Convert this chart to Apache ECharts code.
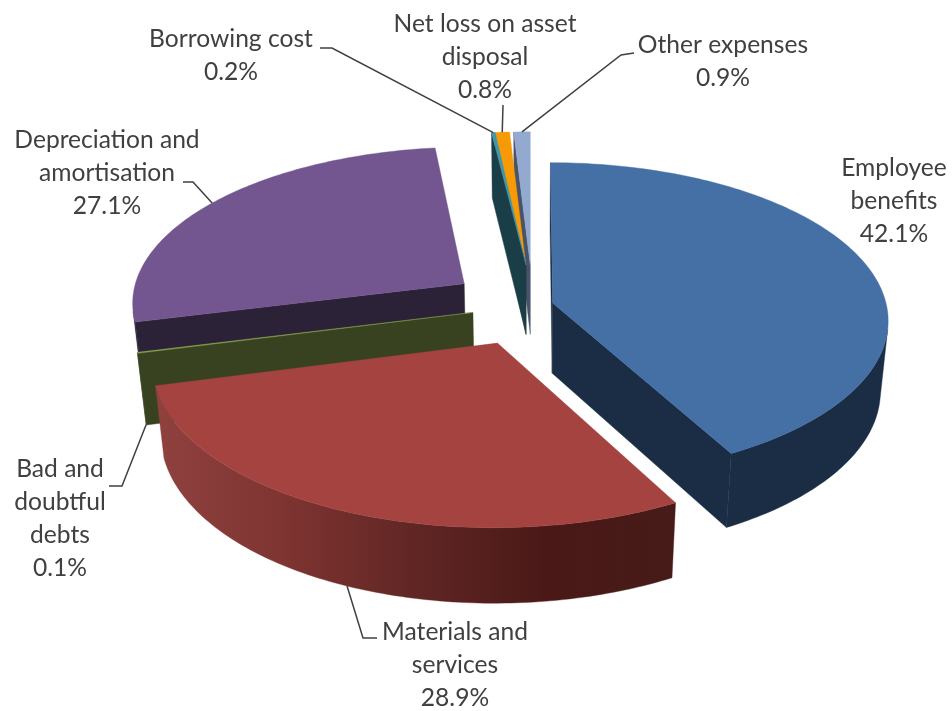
<!DOCTYPE html>
<html>
<head>
<meta charset="utf-8">
<title>Expenses by category</title>
<style>html,body{margin:0;padding:0;background:#fff}#chart{width:952px;height:711px}</style>
<script src="https://cdn.jsdelivr.net/npm/echarts@6/dist/echarts.min.js"></script>
</head>
<body>
<div id="chart"></div>
<script>
// Expense categories, clockwise from twelve o'clock
const categories = ['Employee benefits', 'Materials and services', 'Bad and doubtful debts',
  'Depreciation and amortisation', 'Borrowing cost', 'Net loss on asset disposal', 'Other expenses'];
const shares = [42.1, 28.9, 0.1, 27.1, 0.2, 0.8, 0.9];

// Wrapped label text for each category
const wrappedNames = ['Employee\nbenefits', 'Materials and\nservices', 'Bad and\ndoubtful\ndebts',
  'Depreciation and\namortisation', 'Borrowing cost', 'Net loss on asset\ndisposal', 'Other expenses'];

// Appearance of each slice
const topColors = ['#4470a6', '#a54340', '#8aa64e', '#735590', '#3f97ae', '#f79a05', '#93a9cf'];
const wallColors = ['#1a2d44', null, '#384120', '#2c2238', '#1a3e48', '#7d4e08', '#48536a'];
const materialsWall = ['#8f413e', '#7e3431', '#602624', '#4a1917', '#461b18'];
// How far each slice is pulled out of the pie, in radii (sideways, backwards)
const explodeOffsets = [[0.068, 0.02], [-0.095, -0.232], [-0.17, -0.041], [-0.2, 0.145],
  [-0.012, 0.27], [-0.013, 0.27], [0.001, 0.27]];
const paintOrder = [6, 5, 4, 3, 2, 1, 0];

// Label placement: centre of the text block, elbow points of the leader, and the rim it meets
const labelCentres = [[894, 201], [455, 665], [60, 519], [107, 173], [231, 56], [485, 57], [723, 62]];
const leaderElbows = [null, [[377, 638], [363, 638]], [[109, 486], [122, 486]], [[183, 182], [193, 182]],
  [[320, 48], [332, 48]], [[503, 105]], [[634, 53], [621, 55]]];
const leaderFace = [0, -1, -1, 0, 0, 0, 0];

// Perspective camera for the pie
const cam = { cx: 530, cy: 306, rx: 334, ry: 156, depth: 72, kY: 0.108, kZ: 0.022 };

function project(x, y, z) {
  const s = 1 / (1 + cam.kY * y - cam.kZ * z);
  return [cam.cx + cam.rx * x * s, cam.cy - (cam.ry * y + cam.depth * z) * s];
}

// Sweep angles in radians, measured clockwise from the back of the pie
const total = shares.reduce((a, b) => a + b, 0);
let running = 0;
const slices = shares.map((v, i) => {
  const a0 = running / total * Math.PI * 2;
  running += v;
  const a1 = running / total * Math.PI * 2;
  return { a0, a1, mid: (a0 + a1) / 2, ox: explodeOffsets[i][0], oy: explodeOffsets[i][1] };
});

function rimPoint(sl, a, z) {
  return project(sl.ox + Math.sin(a), sl.oy + Math.cos(a), z);
}

// Negative when a face wound along the slice outline looks at the camera
function signedArea(poly) {
  let area = 0;
  poly.forEach((p, i) => {
    const q = poly[(i + 1) % poly.length];
    area += p[0] * q[1] - q[0] * p[1];
  });
  return area / 2;
}

function polygon(points, fill) {
  return { type: 'polygon', silent: true, shape: { points }, style: { fill, stroke: fill, lineWidth: 0.4 } };
}

function sliceElements(i) {
  const sl = slices[i];
  const steps = Math.max(2, Math.ceil((sl.a1 - sl.a0) / (Math.PI / 180)));
  const arcTop = [], arcBottom = [];
  for (let k = 0; k <= steps; k++) {
    const a = sl.a0 + (sl.a1 - sl.a0) * k / steps;
    arcTop.push(rimPoint(sl, a, 0));
    arcBottom.push(rimPoint(sl, a, -1));
  }
  const apexTop = project(sl.ox, sl.oy, 0);
  const apexBottom = project(sl.ox, sl.oy, -1);
  const wallFill = wallColors[i] || {
    type: 'linear', x: 0, y: 0, x2: 1, y2: 0,
    colorStops: materialsWall.map((color, n) => ({ offset: n / (materialsWall.length - 1), color }))
  };
  const out = [];

  // Flat cut faces, kept only when they turn towards the camera
  const startFace = [apexTop, arcTop[0], arcBottom[0], apexBottom];
  const endFace = [arcTop[steps], apexTop, apexBottom, arcBottom[steps]];
  [startFace, endFace].forEach(f => {
    if (signedArea(f) < 0) out.push(polygon(f, wallColors[i] || materialsWall[3]));
  });

  // Curved outer wall: contiguous facets that look at the camera become one polygon
  let runTop = [], runBottom = [];
  const flush = () => {
    if (runTop.length > 1) out.push(polygon(runTop.concat(runBottom.slice().reverse()), wallFill));
    runTop = []; runBottom = [];
  };
  for (let k = 0; k < steps; k++) {
    const f = [arcTop[k], arcTop[k + 1], arcBottom[k + 1], arcBottom[k]];
    if (signedArea(f) < 0) {
      if (!runTop.length) { runTop.push(arcTop[k]); runBottom.push(arcBottom[k]); }
      runTop.push(arcTop[k + 1]); runBottom.push(arcBottom[k + 1]);
    } else flush();
  }
  flush();

  out.push(polygon([apexTop].concat(arcTop), topColors[i]));
  return out;
}

function labelElements(i) {
  const children = [{
    type: 'text', silent: true,
    style: {
      x: labelCentres[i][0], y: labelCentres[i][1],
      text: wrappedNames[i] + '\n' + shares[i].toFixed(1) + '%',
      textAlign: 'center', textVerticalAlign: 'middle',
      font: '24.6px Lato', lineHeight: 33, fill: '#404040'
    }
  }];
  if (leaderElbows[i]) {
    const sl = slices[i];
    children.push({
      type: 'polyline', silent: true,
      shape: { points: leaderElbows[i].concat([rimPoint(sl, sl.mid, leaderFace[i])]) },
      style: { stroke: '#404040', lineWidth: 1.5, fill: null }
    });
  }
  return children;
}

const chart = echarts.init(document.getElementById('chart'), null, { renderer: 'canvas' });
chart.setOption({
  animation: false,
  backgroundColor: '#ffffff',
  series: [
    {
      type: 'custom', coordinateSystem: 'none', name: 'Expenses',
      data: paintOrder.map(i => ({ name: categories[i], value: [i, shares[i]] })),
      renderItem: (params, api) => ({ type: 'group', children: sliceElements(api.value(0)) })
    },
    {
      type: 'custom', coordinateSystem: 'none', name: 'Labels', z: 3,
      data: categories.map((name, i) => ({ name, value: [i, shares[i]] })),
      renderItem: (params, api) => ({ type: 'group', children: labelElements(api.value(0)) })
    }
  ]
});
</script>
</body>
</html>
